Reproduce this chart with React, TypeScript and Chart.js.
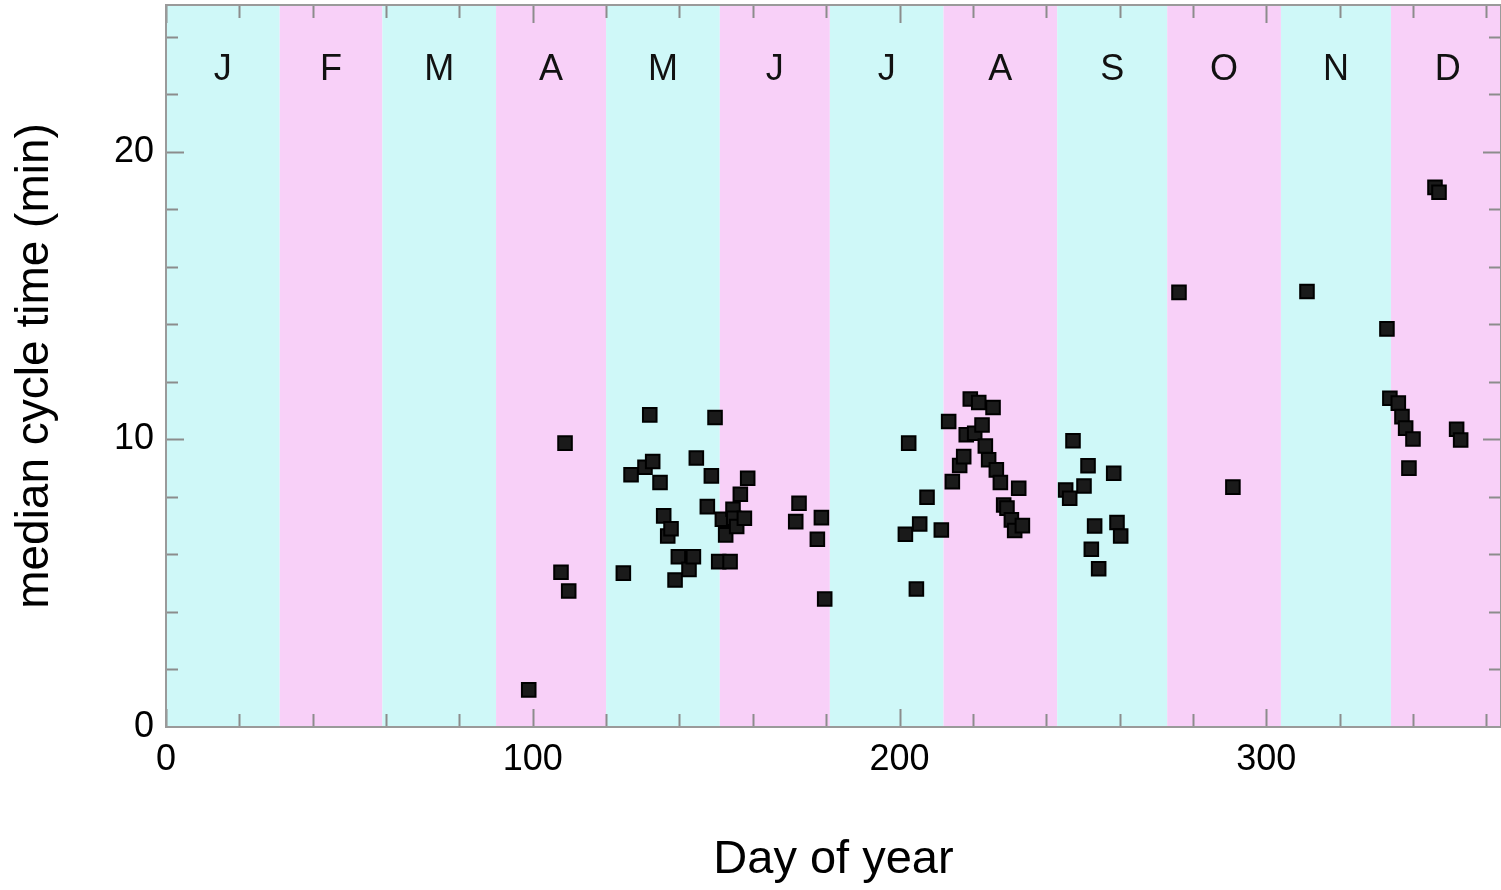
import React, { useEffect, useRef } from "react";
import { Chart, registerables } from "chart.js";

Chart.register(...registerables);

const monthLetters = ["J", "F", "M", "A", "M", "J", "J", "A", "S", "O", "N", "D"];
const monthStarts = [0, 31, 59, 90, 120, 151, 181, 212, 243, 273, 304, 334, 365];

const days = [
  98.9, 107.7, 108.8, 109.8, 124.7, 126.8, 130.6, 131.9, 132.7, 134.7,
  135.7, 136.8, 137.7, 138.8, 139.7, 142.6, 143.8, 144.6, 147.6, 148.7,
  149.7, 150.7, 151.7, 152.6, 153.8, 154.6, 154.8, 155.6, 156.6, 157.7,
  158.6, 171.7, 172.6, 177.6, 178.7, 179.6, 201.6, 202.5, 204.6, 205.5,
  207.5, 211.4, 213.4, 214.4, 216.4, 217.5, 218.2, 219.3, 220.5, 221.6,
  222.5, 223.4, 224.3, 225.5, 226.4, 227.5, 228.4, 229.3, 230.5, 231.4,
  232.5, 233.5, 245.3, 246.4, 247.3, 250.3, 251.4, 252.3, 253.2, 254.3,
  258.4, 259.3, 260.3, 276.2, 290.9, 311.1, 332.9, 333.7, 336.0, 337.0,
  338.0, 338.9, 340.0, 346.0, 347.1, 351.9, 353.0,
];

const cycleTimes = [
  1.29, 5.38, 9.87, 4.73, 5.35, 8.77, 9.03, 10.85, 9.23, 8.5,
  7.34, 6.64, 6.89, 5.11, 5.92, 5.48, 5.92, 9.35, 7.66, 8.73,
  10.76, 5.75, 7.22, 6.68, 5.75, 7.57, 7.26, 6.97, 8.09, 7.26,
  8.65, 7.14, 7.78, 6.53, 7.28, 4.45, 6.7, 9.87, 4.8, 7.06,
  7.99, 6.85, 10.62, 8.53, 9.09, 9.4, 10.16, 11.4, 10.21, 11.28,
  10.5, 9.77, 9.29, 11.11, 8.94, 8.5, 7.72, 7.61, 7.2, 6.83,
  8.3, 7.0, 8.24, 7.95, 9.95, 8.38, 9.08, 6.18, 6.99, 5.5,
  8.82, 7.11, 6.64, 15.11, 8.34, 15.14, 13.84, 11.43, 11.26, 10.79,
  10.39, 9.0, 10.01, 18.76, 18.59, 10.35, 9.98,
];

const xTickLabels = [0, 100, 200, 300];
const yTickLabels = [0, 10, 20];
const X_MIN = 0;
const X_MAX = 364;
const Y_MIN = 0;
const Y_MAX = 25.1;

const FONT = '"Liberation Sans", Arial, Helvetica, sans-serif';
const CYAN = "#cff8f8";
const PINK = "#f8d0f8";
const TICK = "#8c8c8c";

const decorPlugin = {
  id: "decor",
  beforeDatasetsDraw(chart: any) {
    const { ctx, chartArea: a, scales } = chart;
    const x = scales.x;
    const y = scales.y;
    ctx.save();
    ctx.beginPath();
    ctx.rect(a.left, a.top, a.right - a.left, a.bottom - a.top);
    ctx.clip();
    for (let i = 0; i < 12; i++) {
      const x0 = x.getPixelForValue(monthStarts[i]);
      const x1 = x.getPixelForValue(monthStarts[i + 1]);
      ctx.fillStyle = i % 2 === 0 ? CYAN : PINK;
      ctx.fillRect(x0, a.top, x1 - x0, a.bottom - a.top);
    }
    ctx.fillStyle = "#111";
    ctx.font = `36px ${FONT}`;
    ctx.textAlign = "center";
    ctx.textBaseline = "middle";
    const ly = y.getPixelForValue(22.85);
    for (let i = 0; i < 12; i++) {
      const mid = (monthStarts[i] + monthStarts[i + 1]) / 2;
      ctx.fillText(monthLetters[i], x.getPixelForValue(mid), ly);
    }
    ctx.strokeStyle = TICK;
    ctx.lineWidth = 2;
    ctx.beginPath();
    for (let v = X_MIN; v <= X_MAX; v += 20) {
      const px = Math.round(x.getPixelForValue(v)) + 0.5;
      const len = v % 100 === 0 ? 18 : 13;
      ctx.moveTo(px, a.bottom);
      ctx.lineTo(px, a.bottom - len);
      ctx.moveTo(px, a.top);
      ctx.lineTo(px, a.top + len);
    }
    for (let v = Y_MIN; v <= Y_MAX; v += 2) {
      const py = Math.round(y.getPixelForValue(v)) + 0.5;
      const len = v % 10 === 0 ? 18 : 12;
      ctx.moveTo(a.left, py);
      ctx.lineTo(a.left + len, py);
      ctx.moveTo(a.right, py);
      ctx.lineTo(a.right - len, py);
    }
    ctx.stroke();
    ctx.restore();
    ctx.save();
    ctx.strokeStyle = "#9a9a9a";
    ctx.lineWidth = 2;
    ctx.strokeRect(a.left, a.top, a.right - a.left, a.bottom - a.top);
    ctx.restore();
  },
};

export default function App() {
  const ref = useRef<HTMLCanvasElement | null>(null);
  useEffect(() => {
    if (!ref.current) return;
    const chart = new Chart(ref.current, {
      type: "scatter",
      data: {
        datasets: [
          {
            data: days.map((d, i) => ({ x: d, y: cycleTimes[i] })),
            pointStyle: "rect",
            radius: 9.6,
            hoverRadius: 9.6,
            backgroundColor: "#1a1a1a",
            borderColor: "#000",
            borderWidth: 2,
          },
        ],
      },
      options: {
        animation: false,
        responsive: false,
        events: [],
        layout: { autoPadding: false, padding: { top: 5, left: 0, right: 0, bottom: 0 } },
        plugins: { legend: { display: false }, tooltip: { enabled: false } },
        scales: {
          x: {
            type: "linear",
            min: X_MIN,
            max: X_MAX,
            grid: { display: false, drawTicks: false },
            border: { display: false },
            afterBuildTicks: (s: any) => {
              s.ticks = xTickLabels.map((v) => ({ value: v }));
            },
            afterFit: (s: any) => {
              s.height = 163;
              s.paddingLeft = 0;
              s.paddingRight = 0;
              s.paddingTop = 0;
              s.paddingBottom = 0;
            },
            ticks: {
              autoSkip: false,
              maxRotation: 0,
              padding: 15,
              color: "#000",
              font: { family: FONT, size: 36, lineHeight: 1 },
            },
            title: {
              display: true,
              text: "Day of year",
              color: "#000",
              font: { family: FONT, size: 47, lineHeight: 1 },
              padding: { top: 0, bottom: 6 },
            },
          },
          y: {
            type: "linear",
            min: Y_MIN,
            max: Y_MAX,
            grid: { display: false, drawTicks: false },
            border: { display: false },
            afterBuildTicks: (s: any) => {
              s.ticks = yTickLabels.map((v) => ({ value: v }));
            },
            afterFit: (s: any) => {
              s.width = 166;
              s.paddingLeft = 0;
              s.paddingRight = 0;
              s.paddingTop = 0;
              s.paddingBottom = 0;
            },
            ticks: {
              autoSkip: false,
              padding: 12,
              color: "#000",
              font: { family: FONT, size: 36, lineHeight: 1 },
            },
            title: {
              display: true,
              text: "median cycle time (min)",
              color: "#000",
              font: { family: FONT, size: 46, lineHeight: 1 },
              padding: { top: 12, bottom: 0 },
            },
          },
        },
      },
      plugins: [decorPlugin],
    });
    return () => chart.destroy();
  }, []);
  return (
    <div style={{ position: "fixed", left: 0, top: 0, width: 1501, height: 890, background: "#fff" }}>
      <canvas ref={ref} width={1501} height={890} style={{ width: 1501, height: 890, display: "block" }} />
    </div>
  );
}
